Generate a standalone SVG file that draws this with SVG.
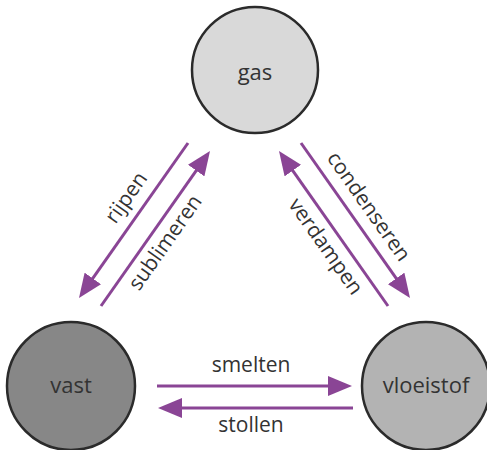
<svg xmlns="http://www.w3.org/2000/svg" width="487" height="450" viewBox="0 0 487 450">
  <style>
    .node { stroke: #2b2b2b; stroke-width: 2.5; }
    .name { font-family: "Open Sans", "Noto Sans", sans-serif; font-size: 22px; fill: #333; text-anchor: middle; }
    .flow { stroke: #8a4595; stroke-width: 3; fill: none; marker-end: url(#head); }
    .lbl { font-family: "Open Sans", "Noto Sans", sans-serif; font-size: 21px; fill: #333; text-anchor: middle; }
  </style>
  <defs>
    <marker id="head" markerUnits="userSpaceOnUse" markerWidth="24" markerHeight="20" refX="12" refY="10" orient="auto">
      <path d="M0,0 L24,10 L0,20 Z" fill="#8a4595"/>
    </marker>
  </defs>
  <rect width="487" height="450" fill="#fff"/>

  <g id="gas">
    <circle class="node" cx="255" cy="70" r="63" fill="#d9d9d9"/>
    <text class="name" x="255" y="80">gas</text>
  </g>
  <g id="vast">
    <circle class="node" cx="71" cy="386" r="64" fill="#878787"/>
    <text class="name" x="71" y="393">vast</text>
  </g>
  <g id="vloeistof">
    <circle class="node" cx="426" cy="386" r="64" fill="#b3b3b3"/>
    <text class="name" x="426" y="393">vloeistof</text>
  </g>

  <g id="connectors">
    <line class="flow" x1="188" y1="143" x2="85.9" y2="288.2"/>
    <line class="flow" x1="101" y1="306" x2="203.1" y2="160.8"/>
    <line class="flow" x1="301" y1="143" x2="403.1" y2="288.2"/>
    <line class="flow" x1="388" y1="306" x2="285.9" y2="160.8"/>
    <line class="flow" x1="157" y1="386" x2="340" y2="386"/>
    <line class="flow" x1="353" y1="408" x2="170" y2="408"/>

    <text class="lbl" transform="translate(127,198) rotate(-54.9)" y="6">rijpen</text>
    <text class="lbl" transform="translate(166,243) rotate(-54.9)" y="6">sublimeren</text>
    <text class="lbl" transform="translate(368,207) rotate(54.9)" y="6">condenseren</text>
    <text class="lbl" transform="translate(325,247) rotate(54.9)" y="6">verdampen</text>
    <text class="lbl" x="251" y="372">smelten</text>
    <text class="lbl" x="251" y="432">stollen</text>
  </g>
</svg>
